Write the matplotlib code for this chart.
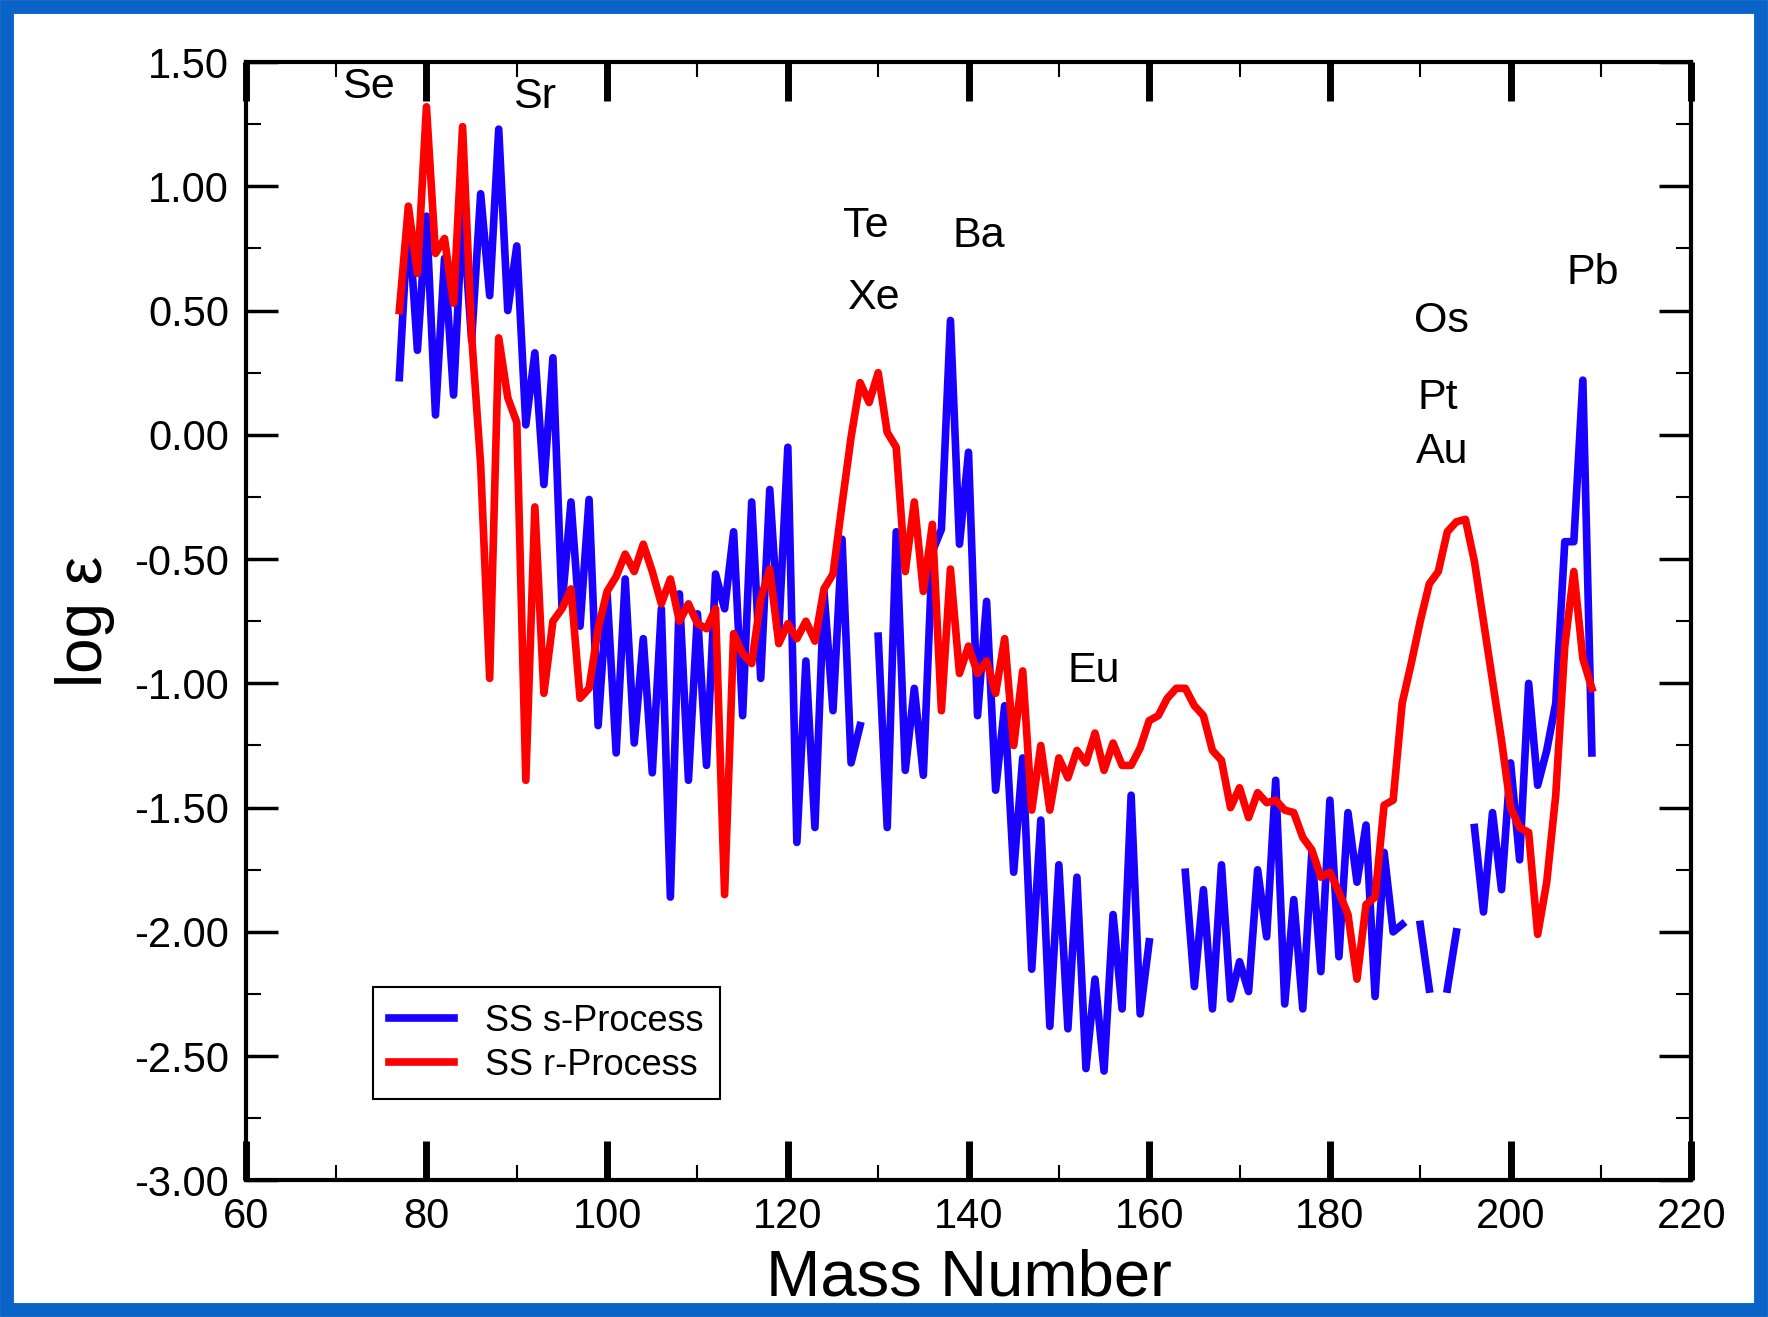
import numpy as np
import matplotlib
matplotlib.use("Agg")
import matplotlib.pyplot as plt
from matplotlib.patches import Rectangle
from matplotlib.ticker import MultipleLocator, FormatStrFormatter

plt.rcParams['font.family'] = ['Liberation Sans', 'DejaVu Sans']

nan = np.nan

# mass numbers 77..209
mass = list(range(77, 210))

# SS s-process, log eps (gaps = nan)
s_process = [
    0.23, 0.89, 0.34, 0.88, 0.08, 0.71, 0.16, 0.90, 0.38, 0.97,   # 77-86
    0.56, 1.23, 0.50, 0.76, 0.04, 0.33, -0.20, 0.31, -0.69, -0.27,  # 87-96
    -0.77, -0.26, -1.17, -0.64, -1.28, -0.58, -1.24, -0.82, -1.36, -0.70,  # 97-106
    -1.86, -0.64, -1.39, -0.72, -1.33, -0.56, -0.70, -0.39, -1.13, -0.27,  # 107-116
    -0.98, -0.22, -0.79, -0.05, -1.64, -0.91, -1.58, -0.63, -1.11, -0.42,  # 117-126
    -1.32, -1.17, nan, -0.81, -1.58, -0.39, -1.35, -1.02, -1.37, -0.47,    # 127-136
    -0.38, 0.46, -0.44, -0.07, -1.13, -0.67, -1.43, -1.09, -1.76, -1.30,   # 137-146
    -2.15, -1.55, -2.38, -1.73, -2.39, -1.78, -2.55, -2.19, -2.56, -1.93,  # 147-156
    -2.31, -1.45, -2.33, -2.04, nan, nan, nan, -1.76, -2.22, -1.83,        # 157-166
    -2.31, -1.73, -2.27, -2.12, -2.24, -1.75, -2.02, -1.39, -2.29, -1.87,  # 167-176
    -2.31, -1.68, -2.16, -1.47, -2.10, -1.52, -1.80, -1.57, -2.26, -1.68,  # 177-186
    -2.00, -1.97, nan, -1.97, -2.23, nan, -2.23, -2.00, nan, -1.58,        # 187-196
    -1.92, -1.52, -1.83, -1.32, -1.71, -1.00, -1.41, -1.27, -1.08, -0.43,  # 197-206
    -0.43, 0.22, -1.28,                                                    # 207-209
]

# SS r-process, log eps
r_process = [
    0.50, 0.92, 0.65, 1.32, 0.73, 0.79, 0.53, 1.24, 0.40, -0.12,   # 77-86
    -0.98, 0.39, 0.15, 0.05, -1.39, -0.29, -1.04, -0.75, -0.70, -0.62,  # 87-96
    -1.06, -1.02, -0.78, -0.63, -0.57, -0.48, -0.55, -0.44, -0.55, -0.68,  # 97-106
    -0.58, -0.75, -0.68, -0.76, -0.78, -0.70, -1.85, -0.80, -0.88, -0.92,  # 107-116
    -0.66, -0.54, -0.84, -0.76, -0.82, -0.75, -0.83, -0.62, -0.56, -0.28,  # 117-126
    -0.01, 0.21, 0.13, 0.25, 0.01, -0.05, -0.55, -0.27, -0.63, -0.36,      # 127-136
    -1.11, -0.54, -0.96, -0.85, -0.96, -0.91, -1.04, -0.82, -1.25, -0.95,  # 137-146
    -1.51, -1.25, -1.51, -1.30, -1.38, -1.27, -1.32, -1.20, -1.35, -1.24,  # 147-156
    -1.33, -1.33, -1.26, -1.15, -1.13, -1.06, -1.02, -1.02, -1.09, -1.13,  # 157-166
    -1.27, -1.31, -1.50, -1.42, -1.54, -1.44, -1.48, -1.47, -1.51, -1.52,  # 167-176
    -1.62, -1.67, -1.78, -1.76, -1.84, -1.93, -2.19, -1.89, -1.86, -1.49,  # 177-186
    -1.47, -1.08, -0.92, -0.75, -0.60, -0.55, -0.39, -0.35, -0.34, -0.51,  # 187-196
    -0.75, -0.99, -1.23, -1.50, -1.58, -1.60, -2.01, -1.80, -1.45, -0.85,  # 197-206
    -0.55, -0.90, -1.02,                                                   # 207-209
]

# element labels and where they sit (mass number, log eps)
elem_names = ['Se', 'Sr', 'Te', 'Xe', 'Ba', 'Eu', 'Os', 'Pt', 'Au', 'Pb']
elem_x = [73.6, 92.0, 128.6, 129.5, 141.1, 153.9, 192.3, 191.9, 192.4, 209.1]
elem_y = [1.40, 1.36, 0.84, 0.55, 0.80, -0.95, 0.46, 0.15, -0.07, 0.65]

# ---- figure ----
fig = plt.figure(figsize=(17.68, 13.17), dpi=100)
ax = fig.add_axes([0.139, 0.1037, 0.8176, 0.8492])

ax.plot(mass, s_process, color='#1a00ff', lw=5.5, label='SS s-Process', zorder=2)
ax.plot(mass, r_process, color='#ff0000', lw=5.5, label='SS r-Process', zorder=3)

for name, x, y in zip(elem_names, elem_x, elem_y):
    ax.text(x, y, name, fontsize=31, ha='center', va='center')

ax.set_xlim(60, 220)
ax.set_ylim(-3.0, 1.5)
ax.xaxis.set_major_locator(MultipleLocator(20))
ax.xaxis.set_minor_locator(MultipleLocator(10))
ax.yaxis.set_major_locator(MultipleLocator(0.5))
ax.yaxis.set_minor_locator(MultipleLocator(0.25))
ax.yaxis.set_major_formatter(FormatStrFormatter('%.2f'))

ax.tick_params(axis='both', which='both', direction='in', top=True, right=True,
               labelsize=30)
ax.tick_params(axis='x', which='major', length=28, width=5, pad=12)
ax.tick_params(axis='y', which='major', length=23, width=2.5, pad=12)
ax.tick_params(axis='both', which='minor', length=11, width=1.5)
for sp in ax.spines.values():
    sp.set_linewidth(3)

ax.set_xlabel('Mass Number', fontsize=47, labelpad=8)
ax.set_ylabel('log ε', fontsize=46, labelpad=14)

leg = ax.legend(loc='lower left', bbox_to_anchor=(0.088, 0.0729), borderaxespad=0,
                fontsize=26, fancybox=False, edgecolor='black', framealpha=1,
                handlelength=1.8, handletextpad=0.85, labelspacing=0.25,
                borderpad=0.45)
leg.get_frame().set_linewidth(1.5)

# blue outer frame
fig.patches.append(Rectangle((0.004, 0.005), 0.992, 0.99, transform=fig.transFigure,
                             fill=False, edgecolor='#0a64c8', linewidth=10))

fig.savefig('out.png', dpi=100)
